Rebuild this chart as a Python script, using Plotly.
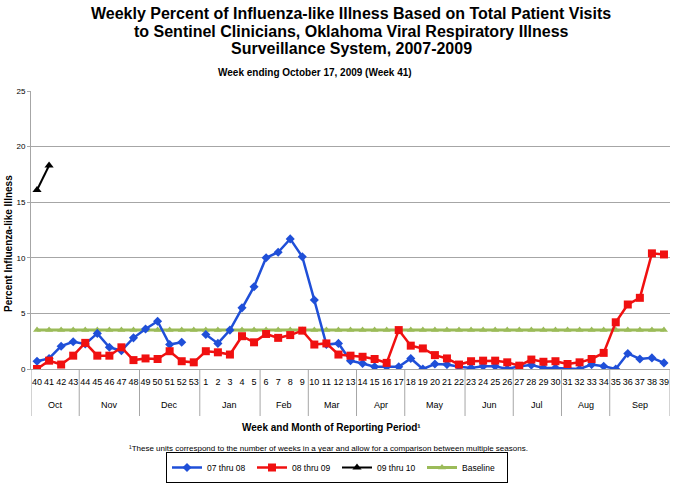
import plotly.graph_objects as go

week_labels = ["40", "41", "42", "43", "44", "45", "46", "47", "48", "49", "50", "51", "52", "53",
               "1", "2", "3", "4", "5", "6", "7", "8", "9", "10", "11", "12", "13",
               "14", "15", "16", "17", "18", "19", "20", "21", "22", "23", "24", "25", "26",
               "27", "28", "29", "30", "31", "32", "33", "34", "35", "36", "37", "38", "39"]

months = ["Oct", "Nov", "Dec", "Jan", "Feb", "Mar", "Apr", "May", "Jun", "Jul", "Aug", "Sep"]
month_weeks = [4, 5, 5, 5, 4, 4, 4, 5, 4, 4, 4, 5]

s0708 = [0.7, 0.95, 2.05, 2.45, 2.25, 3.2, 1.95, 1.65, 2.8, 3.6, 4.3, 2.2, 2.4, None,
         3.1, 2.3, 3.5, 5.5, 7.4, 10.0, 10.5, 11.7, 10.1, 6.2, 2.2, 2.3, 0.75,
         0.5, 0.2, 0.2, 0.2, 0.95, 0.0, 0.45, 0.4, 0.2, 0.1, 0.25, 0.25, 0.0,
         0.25, 0.35, 0.1, 0.1, 0.05, 0.0, 0.4, 0.25, 0.0, 1.4, 0.9, 1.0, 0.55]

s0809 = [0.0, 0.75, 0.4, 1.2, 2.35, 1.2, 1.2, 1.95, 0.8, 0.95, 0.9, 1.6, 0.7, 0.6,
         1.6, 1.5, 1.3, 2.95, 2.4, 3.15, 2.8, 3.05, 3.45, 2.2, 2.3, 1.3, 1.2,
         1.1, 0.9, 0.55, 3.5, 2.1, 1.85, 1.25, 0.95, 0.4, 0.7, 0.75, 0.75, 0.6,
         0.3, 0.85, 0.65, 0.7, 0.45, 0.6, 0.9, 1.45, 4.2, 5.8, 6.4, 10.4, 10.3]

s0910 = [16.1, 18.3]

baseline = [3.5, 3.5, 3.5, 3.5, 3.5, 3.5, 3.5, 3.5, 3.5, 3.5, 3.5, 3.5, 3.5, 3.5,
            3.5, 3.5, 3.5, 3.5, 3.5, 3.5, 3.5, 3.5, 3.5, 3.5, 3.5, 3.5, 3.5,
            3.5, 3.5, 3.5, 3.5, 3.5, 3.5, 3.5, 3.5, 3.5, 3.5, 3.5, 3.5, 3.5,
            3.5, 3.5, 3.5, 3.5, 3.5, 3.5, 3.5, 3.5, 3.5, 3.5, 3.5, 3.5, 3.5]

title_lines = ["Weekly Percent of Influenza-like Illness Based on Total Patient Visits",
               "to Sentinel Clinicians, Oklahoma Viral Respiratory Illness",
               "Surveillance System, 2007-2009"]

W, H = 674, 485
ML, MR, MT, MB = 31, 4, 91, 116
PW = W - ML - MR
PH = H - MT - MB

def py(px):
    return (H - MB - px) / PH

def pxx(px):
    return (px - ML) / PW

FONT = "Liberation Sans"
idx = list(range(len(week_labels)))

fig = go.Figure()
fig.add_trace(go.Scatter(
    x=idx, y=baseline, name="Baseline", mode="lines+markers", legendrank=4,
    line=dict(color="#9bbb59", width=3),
    marker=dict(symbol="triangle-up", size=7, color="#9bbb59")))
fig.add_trace(go.Scatter(
    x=idx, y=s0708, name="07 thru 08", mode="lines+markers", legendrank=1,
    line=dict(color="#1f4fd8", width=2.5),
    marker=dict(symbol="diamond", size=7, color="#1f4fd8"),
    connectgaps=False))
fig.add_trace(go.Scatter(
    x=idx, y=s0809, name="08 thru 09", mode="lines+markers", legendrank=2,
    line=dict(color="#f01010", width=2.5),
    marker=dict(symbol="square", size=8, color="#f01010")))
fig.add_trace(go.Scatter(
    x=idx[:len(s0910)], y=s0910, name="09 thru 10", mode="lines+markers", legendrank=3,
    line=dict(color="#000000", width=2),
    marker=dict(symbol="triangle-up", size=8, color="#000000")))

shapes = []
annotations = []
start = 0
bounds = [-0.5]
for m, n in zip(months, month_weeks):
    center = start + (n - 1) / 2
    annotations.append(dict(x=center, y=py(405), xref="x", yref="paper",
                            text=m, showarrow=False, xanchor="center", yanchor="middle",
                            font=dict(family=FONT, size=9, color="#000")))
    start += n
    bounds.append(start - 0.5)
for b in bounds:
    shapes.append(dict(type="line", xref="x", yref="paper", x0=b, x1=b,
                       y0=0, y1=py(416), line=dict(color="#a6a6a6", width=1)))

for line, ypx in zip(title_lines, [14, 31, 48]):
    annotations.append(dict(x=pxx(351), y=py(ypx), xref="paper", yref="paper", showarrow=False,
                            text="<b>" + line + "</b>", xanchor="center", yanchor="middle",
                            font=dict(family=FONT, size=16, color="#000")))

annotations += [
    dict(x=pxx(315), y=py(73), xref="paper", yref="paper", showarrow=False,
         text="<b>Week ending October 17, 2009 (Week 41)</b>", xanchor="center", yanchor="middle",
         font=dict(family=FONT, size=10, color="#000")),
    dict(x=pxx(331), y=py(427), xref="paper", yref="paper", showarrow=False,
         text="<b>Week and Month of Reporting Period¹</b>", xanchor="center", yanchor="middle",
         font=dict(family=FONT, size=10, color="#000")),
    dict(x=pxx(328), y=py(448), xref="paper", yref="paper", showarrow=False,
         text="¹These units correspond to the number of weeks in a year and allow for a comparison between multiple seasons.",
         xanchor="center", yanchor="middle",
         font=dict(family=FONT, size=8, color="#000")),
    dict(x=pxx(8), y=py(244), xref="paper", yref="paper", showarrow=False,
         text="<b>Percent Influenza-like Illness</b>", textangle=-90,
         xanchor="center", yanchor="middle",
         font=dict(family=FONT, size=10, color="#000")),
]

fig.update_layout(
    width=W, height=H,
    margin=dict(l=ML, r=MR, t=MT, b=MB, autoexpand=False),
    paper_bgcolor="white", plot_bgcolor="white",
    xaxis=dict(range=[-0.5, len(week_labels) - 0.5], tickmode="array",
               tickvals=idx, ticktext=week_labels, showgrid=False, automargin=False,
               zeroline=False, showline=True, linecolor="#a6a6a6", linewidth=1,
               ticks="", ticklabelstandoff=4,
               tickfont=dict(family=FONT, size=9, color="#000"),
               tickangle=0, fixedrange=True),
    yaxis=dict(range=[0, 25], tickvals=[0, 5, 10, 15, 20, 25], showgrid=True,
               gridcolor="#a6a6a6", gridwidth=1, zeroline=False, showline=True,
               automargin=False,
               linecolor="#a6a6a6", linewidth=1, ticks="outside", ticklen=3,
               tickcolor="#a6a6a6", tickfont=dict(family=FONT, size=8, color="#000")),
    showlegend=True,
    legend=dict(orientation="h", x=pxx(337), y=py(483), xanchor="center", yanchor="bottom",
                bordercolor="#000", borderwidth=1, bgcolor="white",
                font=dict(family=FONT, size=8.5, color="#000"),
                itemwidth=30, tracegroupgap=0,
                entrywidth=40, entrywidthmode="pixels"),
    shapes=shapes, annotations=annotations,
)

fig.write_html("out.html", config={"displayModeBar": False},
               post_script="document.body.style.margin='0';document.body.style.padding='0';")
